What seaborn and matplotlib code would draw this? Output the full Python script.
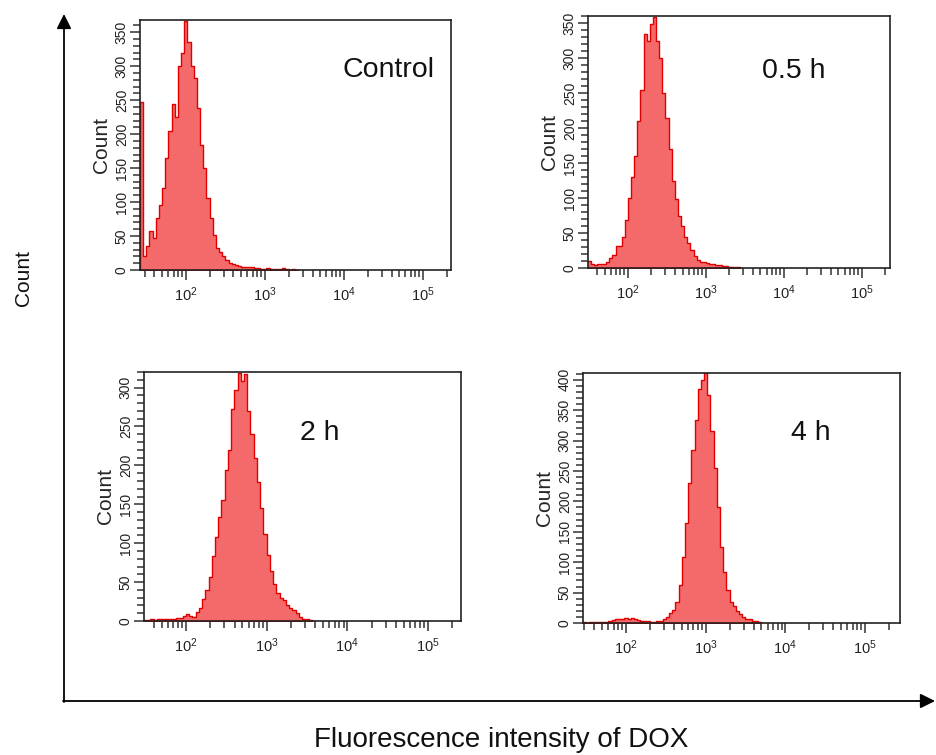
import numpy as np
import matplotlib
matplotlib.use("Agg")
import matplotlib.pyplot as plt
import seaborn as sns
from matplotlib.ticker import LogLocator, MultipleLocator, NullFormatter, LogFormatterMathtext
from matplotlib.patches import FancyArrowPatch

sns.set_theme(style="ticks")
plt.rcParams["font.family"] = ["Liberation Sans", "DejaVu Sans"]

# ---------------- data (log10 fluorescence bins, counts per bin) ----------------
bin_width = 0.04  # decades per bin

panel_names = ["Control", "0.5 h", "2 h", "4 h"]

ctrl_start = 1.42
ctrl_counts = [248, 20, 35, 57, 47, 76, 95, 120, 165, 205, 245, 225, 300, 320, 366,
               335, 300, 282, 238, 184, 150, 106, 76, 51, 32, 27, 20, 15, 11, 9, 7,
               6, 5, 5, 4, 4, 3, 3, 2, 2, 3, 2, 1, 2, 1, 3, 1, 0, 1, 0]

h05_start = 1.48
h05_counts = [10, 5, 4, 6, 5, 6, 8, 14, 19, 32, 31, 45, 68, 100, 130, 160, 210, 255,
              334, 325, 349, 359, 325, 300, 250, 215, 170, 125, 98, 75, 60, 44, 35,
              25, 17, 11, 9, 8, 7, 6, 5, 4, 4, 3, 3, 2, 2, 1, 1]

h2_start = 1.48
h2_counts = [1, 1, 2, 1, 2, 2, 2, 3, 3, 2, 4, 4, 7, 9, 6, 5, 11, 17, 28, 40, 57, 83,
             108, 134, 156, 194, 220, 272, 297, 319, 308, 318, 270, 240, 210, 178,
             145, 112, 85, 64, 48, 36, 30, 27, 21, 17, 14, 10, 5, 3, 2, 1]

h4_start = 1.46
h4_counts = [1, 0, 1, 1, 1, 2, 1, 2, 3, 5, 6, 7, 6, 8, 7, 9, 6, 5, 4, 3, 3, 2, 2, 3,
             4, 6, 10, 16, 22, 35, 62, 109, 164, 230, 285, 334, 384, 400, 411, 375,
             315, 255, 190, 125, 84, 55, 34, 28, 20, 15, 10, 7, 6, 4, 3, 2]

starts = [ctrl_start, h05_start, h2_start, h4_start]
counts_all = [ctrl_counts, h05_counts, h2_counts, h4_counts]

# ---------------- layout / style ----------------
W, H = 936, 755
# axes boxes in pixels: left, right, top, bottom
boxes = [(140, 451, 20, 270), (588, 890, 16, 268), (144, 461, 372, 621), (583, 900, 373, 623)]
xlims_log = [(1.42, 5.354), (1.487, 5.36), (1.48, 5.41), (1.46, 5.44)]
ymaxs = [368, 360, 320, 411]
label_pos = [(0.80, 0.80), (0.68, 0.78), (0.555, 0.755), (0.72, 0.76)]

fill_color = "#F46A6A"
edge_color = "#E00000"
narrow = ["Liberation Sans Narrow", "Liberation Sans", "DejaVu Sans"]

fig = plt.figure(figsize=(W / 100, H / 100), dpi=100)

for name, start, counts, box, xl, ymax, lp in zip(panel_names, starts, counts_all, boxes,
                                                   xlims_log, ymaxs, label_pos):
    l, r, t, b = box
    ax = fig.add_axes([l / W, 1 - b / H, (r - l) / W, (b - t) / H])
    n = len(counts)
    centers = start + bin_width * (np.arange(n) + 0.5)
    sns.histplot(x=10 ** centers, weights=counts, binwidth=bin_width,
                 binrange=(start, start + bin_width * n), log_scale=True,
                 element="step", fill=True, color=fill_color, edgecolor=edge_color,
                 linewidth=1.0, alpha=1, ax=ax)
    ax.set_xlim(10 ** xl[0], 10 ** xl[1])
    ax.set_ylim(0, ymax)
    ax.xaxis.set_major_locator(LogLocator(base=10, numticks=12))
    ax.xaxis.set_major_formatter(LogFormatterMathtext())
    ax.xaxis.set_minor_locator(LogLocator(base=10, subs=np.arange(2, 10), numticks=12))
    ax.xaxis.set_minor_formatter(NullFormatter())
    ax.yaxis.set_major_locator(MultipleLocator(50))
    ax.yaxis.set_minor_locator(MultipleLocator(10))
    ax.tick_params(axis="both", which="major", direction="out", length=7, width=1.1,
                   color="#333333", labelcolor="#222222")
    ax.tick_params(axis="both", which="minor", direction="out", length=5, width=1.1,
                   color="#333333")
    ax.tick_params(axis="x", labelsize=10.5, pad=4)
    ax.tick_params(axis="y", labelsize=10, labelrotation=90, pad=1)
    for lab in ax.get_yticklabels():
        lab.set_va("center")
        lab.set_family(narrow)
    for s in ax.spines.values():
        s.set_linewidth(1.2)
        s.set_color("#222222")
    ax.set_xlabel("")
    ax.set_ylabel("Count", fontsize=15, labelpad=3)
    ax.grid(False)
    ax.text(lp[0], lp[1], name, transform=ax.transAxes, ha="center", va="center",
            fontsize=20.5, color="#111111")

# big axis arrows
fig.add_artist(FancyArrowPatch(posA=(64 / W, 1 - 702 / H), posB=(64 / W, 1 - 14 / H),
                               transform=fig.transFigure, arrowstyle="-|>",
                               mutation_scale=22, color="black", lw=1.3,
                               shrinkA=0, shrinkB=0))
fig.add_artist(FancyArrowPatch(posA=(63 / W, 1 - 701 / H), posB=(935 / W, 1 - 701 / H),
                               transform=fig.transFigure, arrowstyle="-|>",
                               mutation_scale=22, color="black", lw=1.3,
                               shrinkA=0, shrinkB=0))

fig.text(23 / W, 1 - 278 / H, "Count", rotation=90, ha="center", va="center",
         fontsize=15, color="#111111")
fig.text(501 / W, 1 - 740 / H, "Fluorescence intensity of DOX", ha="center",
         va="center", fontsize=20, color="#111111")

fig.savefig("out.png", dpi=100)
